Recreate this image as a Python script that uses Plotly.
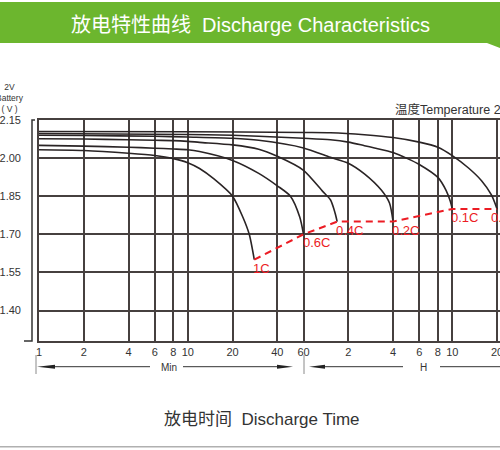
import numpy as np
import plotly.graph_objects as go

# discharge time in minutes, cell voltage in V
t_1c = [1, 2, 4, 6, 8, 10, 12, 15, 20, 23.4, 25.9, 28]
v_1c = [2.033, 2.030, 2.019, 2.010, 1.998, 1.982, 1.959, 1.918, 1.850, 1.769, 1.700, 1.600]

t_06c = [1, 2, 4, 6, 8, 10, 12, 20, 30, 40, 49, 56.6, 60]
v_06c = [2.050, 2.047, 2.043, 2.039, 2.036, 2.033, 2.026, 1.991, 1.940, 1.891, 1.850, 1.768, 1.700]

t_04c = [1, 2, 4, 6, 8, 10, 12, 20, 30, 40, 60, 81, 91, 96, 98.4, 101]
v_04c = [2.076, 2.075, 2.072, 2.070, 2.069, 2.066, 2.062, 2.052, 2.035, 2.007, 1.952, 1.868, 1.836, 1.800, 1.778, 1.750]

t_02c = [1, 2, 6, 10, 20, 30, 60, 91, 120, 154, 200, 227, 240]
v_02c = [2.090, 2.089, 2.086, 2.083, 2.078, 2.070, 2.040, 2.003, 1.980, 1.938, 1.874, 1.823, 1.750]

t_01c = [1, 10, 20, 30, 60, 91, 120, 154, 180, 240, 300, 360, 480, 546, 582, 600]
v_01c = [2.097, 2.093, 2.090, 2.086, 2.078, 2.072, 2.063, 2.049, 2.040, 2.022, 1.998, 1.975, 1.924, 1.872, 1.830, 1.800]

t_005c = [1, 10, 60, 91, 154, 240, 360, 480, 600, 768, 944, 1100, 1200]
v_005c = [2.105, 2.104, 2.101, 2.100, 2.092, 2.081, 2.063, 2.043, 2.010, 1.962, 1.911, 1.855, 1.800]

# end-of-discharge points (red dashed line)
end_t = [28, 60, 101, 240, 600, 1200]
end_v = [1.60, 1.70, 1.75, 1.75, 1.80, 1.80]
end_labels = ["1C", "0.6C", "0.4C", "0.2C", "0.1C", "0.05C"]

x_tickvals = [1, 2, 4, 6, 8, 10, 20, 40, 60, 120, 240, 360, 480, 600, 1200]
x_ticktext = ["1", "2", "4", "6", "8", "10", "20", "40", "60", "2", "4", "6", "8", "10", "20"]
y_tickvals = [2.15, 2.00, 1.85, 1.70, 1.55, 1.40]

W, H = 500, 450
ML, MR, MT, MB = 39, 0, 120, 109
FONT = "Liberation Sans, Arial, Noto Sans CJK SC, sans-serif"
GRID = "#46403f"
INK = "#2a2425"
RED = "#ec1c24"


def px(x):
    return (x - ML) / (W - ML - MR)


def py(y):
    return (H - MB - y) / (H - MT - MB)


def path(points, close=False):
    s = "M " + " L ".join(f"{px(a):.5f},{py(b):.5f}" for a, b in points)
    return s + (" Z" if close else "")


fig = go.Figure()
for tt, vv in [(t_1c, v_1c), (t_06c, v_06c), (t_04c, v_04c),
               (t_02c, v_02c), (t_01c, v_01c), (t_005c, v_005c)]:
    fig.add_trace(go.Scatter(x=tt, y=vv, mode="lines",
                             line=dict(color=INK, width=1.6, shape="spline", smoothing=0.7),
                             showlegend=False, hoverinfo="skip"))

fig.add_trace(go.Scatter(x=end_t, y=end_v, mode="lines",
                         line=dict(color=RED, width=2, dash="7px,5px"),
                         showlegend=False, hoverinfo="skip"))

for i, (t, v, lab) in enumerate(zip(end_t, end_v, end_labels)):
    shift = -8 if i == len(end_t) - 1 else -3
    fig.add_annotation(x=np.log10(t), y=v, xref="x", yref="y", text=lab,
                       showarrow=False, xanchor="left", yanchor="top",
                       xshift=shift, yshift=1, font=dict(color=RED, size=13, family=FONT))

shapes = []
# green banner
shapes.append(dict(type="path", xref="paper", yref="paper",
                   path=path([(0, 2), (500, 2), (500, 48), (487, 43), (0, 43)], close=True),
                   fillcolor="#6cb62e", line=dict(width=0), layer="below"))
# y axis bracket
shapes.append(dict(type="path", xref="paper", yref="paper",
                   path=path([(35, 120), (32, 120), (32, 341), (24, 341)]),
                   line=dict(color="#333", width=1.5)))
# Min / H arrows
for x0, x1 in [(55, 150), (183, 277), (325, 403), (440, 500)]:
    shapes.append(dict(type="line", xref="paper", yref="paper",
                       x0=px(x0), x1=px(x1), y0=py(366.7), y1=py(366.7),
                       line=dict(color="#333", width=1)))
for tip, base in [(37, 55), (293, 277), (309, 325)]:
    shapes.append(dict(type="path", xref="paper", yref="paper",
                       path=path([(tip, 366.7), (base, 364.7), (base, 368.7)], close=True),
                       fillcolor="#222", line=dict(width=0)))
for xb in [36, 304]:
    shapes.append(dict(type="line", xref="paper", yref="paper",
                       x0=px(xb), x1=px(xb), y0=py(355), y1=py(374),
                       line=dict(color="#8a8a8a", width=1)))
# bottom rule
shapes.append(dict(type="line", xref="paper", yref="paper",
                   x0=px(0), x1=px(500), y0=py(446.7), y1=py(446.7),
                   line=dict(color="#b0b0b0", width=1.5)))

texts = [
    ("放电特性曲线  Discharge Characteristics", 250, 25, 20, "white", "center"),
    ("2V<br>Battery<br>( V )", 10, 98.5, 8.5, "#333", "center"),
    ("温度Temperature 25℃", 392.7, 110, 12.5, "#333", "left"),
    ("Min", 168.5, 367, 10, "#333", "center"),
    ("H", 423, 367, 10, "#333", "center"),
    ("放电时间  Discharge Time", 261.5, 419, 17, "#333", "center"),
]
for txt, x, y, size, color, anchor in texts:
    fig.add_annotation(x=px(x), y=py(y), xref="paper", yref="paper", text=txt,
                       showarrow=False, xanchor=anchor, yanchor="middle",
                       font=dict(size=size, color=color, family=FONT))

fig.update_layout(
    width=W, height=H,
    margin=dict(l=ML, r=MR, t=MT, b=MB, autoexpand=False),
    paper_bgcolor="white", plot_bgcolor="white",
    font=dict(family=FONT, color="#333"),
    shapes=shapes,
    showlegend=False,
)
fig.update_xaxes(type="log", range=[0, 3.099], tickvals=x_tickvals, ticktext=x_ticktext,
                 showgrid=True, gridcolor=GRID, gridwidth=1.6,
                 showline=True, linecolor=GRID, linewidth=1.6, mirror=True,
                 ticks="", tickfont=dict(size=11, color="#333"), zeroline=False,
                 ticklabeloverflow="allow", automargin=False)
fig.update_yaxes(range=[1.28, 2.15], tickvals=y_tickvals, tickformat=".2f",
                 showgrid=True, gridcolor=GRID, gridwidth=1.6,
                 showline=True, linecolor=GRID, linewidth=1.6,
                 ticks="", ticklabelstandoff=14, tickfont=dict(size=11, color="#333"),
                 ticklabeloverflow="allow", zeroline=False, automargin=False)

# page body has a default 8px margin; drop it so the figure sits at the corner
fig.write_html("out.html", config={"displayModeBar": False},
               post_script="document.body.style.margin='0';document.body.style.overflow='hidden';")
